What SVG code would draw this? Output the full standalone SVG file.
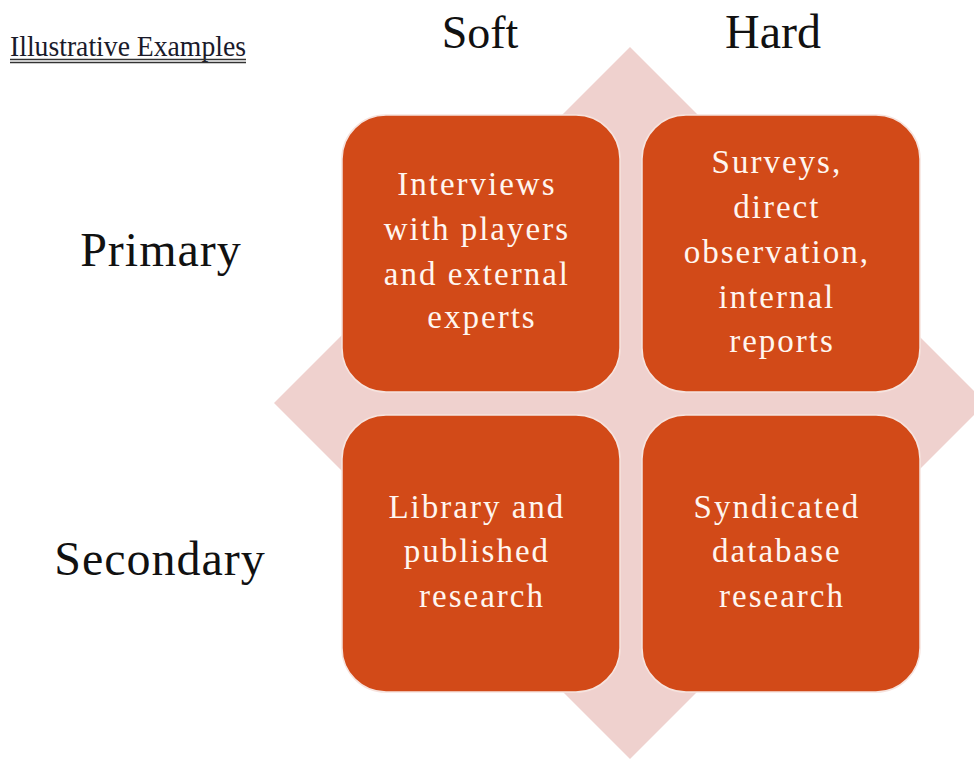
<svg xmlns="http://www.w3.org/2000/svg" width="974" height="760" viewBox="0 0 974 760">
  <style>
    .head { font-family: "Liberation Serif", "DejaVu Serif", serif; fill: #111111; text-anchor: middle; }
    .box { fill: #D24A18; stroke: #F6E3DE; stroke-width: 1.5; }
    .label { font-family: "Liberation Serif", "DejaVu Serif", serif; font-size: 33px; fill: #FFF6F0; text-anchor: middle; letter-spacing: 2px; }
  </style>
  <rect width="974" height="760" fill="#FFFFFF"/>

  <!-- title with double underline -->
  <g id="title">
    <text x="10" y="56" font-family="Liberation Serif, DejaVu Serif, serif" font-size="29" fill="#1A1A2A" textLength="236" lengthAdjust="spacingAndGlyphs">Illustrative Examples</text>
    <line x1="10" y1="59.5" x2="246" y2="59.5" stroke="#333333" stroke-width="1.3"/>
    <line x1="10" y1="62.5" x2="246" y2="62.5" stroke="#333333" stroke-width="1.3"/>
  </g>

  <!-- axis headings -->
  <g id="col-soft"><text class="head" x="480" y="48" font-size="46">Soft</text></g>
  <g id="col-hard"><text class="head" x="773" y="48" font-size="48">Hard</text></g>
  <g id="row-primary"><text class="head" x="161" y="266" font-size="48" letter-spacing="1">Primary</text></g>
  <g id="row-secondary"><text class="head" x="160" y="575" font-size="48" letter-spacing="1">Secondary</text></g>

  <!-- backdrop diamond -->
  <polygon id="backdrop" points="630,47 986,403 630,759 274,403" fill="#EFD1CE"/>

  <g id="connectors"></g>

  <g id="soft-primary">
    <rect class="box" x="342" y="115" width="278" height="277" rx="44" ry="44"/>
    <text class="label">
      <tspan x="482" y="195">Interviews</tspan>
      <tspan x="482" y="240">with players</tspan>
      <tspan x="482" y="285">and external</tspan>
      <tspan x="482" y="328">experts</tspan>
    </text>
  </g>

  <g id="hard-primary">
    <rect class="box" x="642" y="115" width="278" height="277" rx="44" ry="44"/>
    <text class="label">
      <tspan x="782" y="173">Surveys,</tspan>
      <tspan x="782" y="218">direct</tspan>
      <tspan x="782" y="263">observation,</tspan>
      <tspan x="782" y="308">internal</tspan>
      <tspan x="782" y="352">reports</tspan>
    </text>
  </g>

  <g id="soft-secondary">
    <rect class="box" x="342" y="415" width="278" height="277" rx="44" ry="44"/>
    <text class="label">
      <tspan x="482" y="518">Library and</tspan>
      <tspan x="482" y="562">published</tspan>
      <tspan x="482" y="607">research</tspan>
    </text>
  </g>

  <g id="hard-secondary">
    <rect class="box" x="642" y="415" width="278" height="277" rx="44" ry="44"/>
    <text class="label">
      <tspan x="782" y="518">Syndicated</tspan>
      <tspan x="782" y="562">database</tspan>
      <tspan x="782" y="607">research</tspan>
    </text>
  </g>
</svg>
